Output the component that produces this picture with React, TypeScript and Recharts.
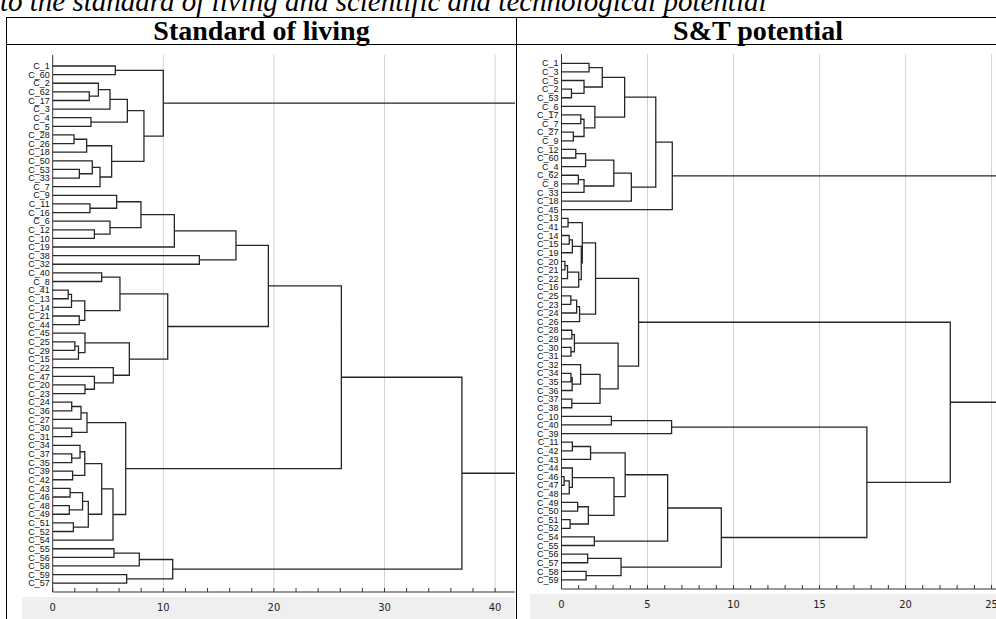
import React from 'react';
import { LineChart, Line, XAxis, YAxis, ReferenceLine } from 'recharts';

type TreeNode = number | [TreeNode, TreeNode, number];

const captionText = 'to the standard of living and scientific and technological potential';
const panelTitles = ['Standard of living', 'S&T potential'];

// ---------- Standard of living ----------
const livingLabels = [
  'C_1', 'C_60', 'C_2', 'C_62', 'C_17', 'C_3', 'C_4', 'C_5', 'C_28', 'C_26',
  'C_18', 'C_50', 'C_53', 'C_33', 'C_7', 'C_9', 'C_11', 'C_16', 'C_6', 'C_12',
  'C_10', 'C_19', 'C_38', 'C_32', 'C_40', 'C_8', 'C_41', 'C_13', 'C_14', 'C_21',
  'C_44', 'C_45', 'C_25', 'C_29', 'C_15', 'C_22', 'C_47', 'C_20', 'C_23', 'C_24',
  'C_36', 'C_27', 'C_30', 'C_31', 'C_34', 'C_37', 'C_35', 'C_39', 'C_42', 'C_43',
  'C_46', 'C_48', 'C_49', 'C_51', 'C_52', 'C_54', 'C_55', 'C_56', 'C_58', 'C_59',
  'C_57',
];
// leaves are indices into livingLabels; [left, right, linkage distance]
const livingTop: TreeNode = [
  [0, 1, 5.66],
  [
    [[[2, [3, 4, 3.31], 4.13], 5, 5.18], [6, 7, 3.46], 6.75],
    [[[8, 9, 1.93], 10, 3.07], [[11, [12, 13, 2.41], 3.58], 14, 4.28], 5.33],
    8.25,
  ],
  10.0,
];
const livingUpper: TreeNode = [
  [
    [[[15, [16, 17, 3.37], 5.78], [18, [19, 20, 3.77], 5.18], 7.98], 21, 11.0],
    [22, 23, 13.26],
    16.57,
  ],
  [
    [[24, 25, 4.43], [[[26, 27, 1.4], 28, 1.7], [29, 30, 2.4], 2.9], 6.08],
    [[31, [[32, 33, 2.0], 34, 2.33], 2.92], [35, [36, [37, 38, 2.92], 3.77], 5.48], 6.93],
    10.4,
  ],
  19.5,
];
const livingMiddle: TreeNode = [
  [[[39, 40, 1.72], 41, 2.56], [42, 43, 1.72], 3.1],
  [
    [
      [[44, [45, 46, 1.72], 2.47], [47, 48, 1.8], 2.9],
      [[[49, 50, 1.57], [51, 52, 1.5], 2.7], [53, 54, 1.87], 3.22],
      4.43,
    ],
    55,
    5.45,
  ],
  6.6,
];
const livingBottom: TreeNode = [[[56, 57, 5.54], 58, 7.83], [59, 60, 6.69], 10.85];
const livingJoins = [26.1, 37.0, 48.0];
const livingMinorTicks = [0, 2, 4, 6, 8, 10, 12, 14, 16, 18, 20, 22, 24, 26, 28, 30, 32, 34, 36, 38, 40];
const livingGrid = [10, 20, 30, 40];

// ---------- S&T potential ----------
const stLabels = [
  'C_1', 'C_3', 'C_5', 'C_2', 'C_53', 'C_6', 'C_17', 'C_7', 'C_27', 'C_9',
  'C_12', 'C_60', 'C_4', 'C_62', 'C_8', 'C_33', 'C_18', 'C_45', 'C_13', 'C_41',
  'C_14', 'C_15', 'C_19', 'C_20', 'C_21', 'C_22', 'C_16', 'C_25', 'C_23', 'C_24',
  'C_26', 'C_28', 'C_29', 'C_30', 'C_31', 'C_32', 'C_34', 'C_35', 'C_36', 'C_37',
  'C_38', 'C_10', 'C_40', 'C_39', 'C_11', 'C_42', 'C_43', 'C_44', 'C_46', 'C_47',
  'C_48', 'C_49', 'C_50', 'C_51', 'C_52', 'C_54', 'C_55', 'C_56', 'C_57', 'C_58',
  'C_59',
];
const stTop: TreeNode = [
  [
    [
      [[0, 1, 1.6], [2, [3, 4, 0.58], 1.31], 2.37],
      [5, [[6, 7, 1.12], [8, 9, 0.69], 1.31], 1.94],
      3.67,
    ],
    [[[[10, 11, 0.83], 12, 1.4], [[13, 14, 0.98], 15, 1.31], 3.04], 16, 4.06],
    5.48,
  ],
  17,
  6.44,
];
const stMiddle: TreeNode = [
  [
    [[18, 19, 0.38], [[[20, 21, 0.45], 22, 0.63], [[[23, 24, 0.2], 25, 0.35], 26, 1.0], 1.15], 1.21],
    [[[27, 28, 0.54], 29, 0.88], 30, 1.05],
    1.98,
  ],
  [
    [[31, 32, 0.6], [33, 34, 0.55], 0.75],
    [[35, [[36, 37, 0.55], 38, 0.62], 1.11], [39, 40, 0.6], 2.24],
    3.29,
  ],
  4.48,
];
const stSmall: TreeNode = [[41, 42, 2.9], 43, 6.4];
const stBottom: TreeNode = [
  [
    [
      [[44, 45, 0.63], 46, 1.69],
      [[47, [[48, 49, 0.15], 50, 0.45], 0.63], [[51, 52, 0.94], [53, 54, 0.5], 1.56], 3.05],
      3.7,
    ],
    [55, 56, 1.91],
    6.17,
  ],
  [[57, 58, 1.52], [59, 60, 1.43], 3.46],
  9.29,
];
const stJoins = [17.75, 22.6, 30.0];
const stMinorTicks = [0, 1, 2, 3, 4, 5, 6, 7, 8, 9, 10, 11, 12, 13, 14, 15, 16, 17, 18, 19, 20, 21, 22, 23, 24, 25];
const stGrid = [5, 10, 15, 20, 25];

// ---------- tree assembly ----------
const livingRoot: TreeNode = [
  livingTop,
  [[livingUpper, livingMiddle, livingJoins[0]], livingBottom, livingJoins[1]],
  livingJoins[2],
];
const stRoot: TreeNode = [
  stTop,
  [stMiddle, [stSmall, stBottom, stJoins[0]], stJoins[1]],
  stJoins[2],
];

type Pt = { x: number; y: number | null };

function buildSegments(root: TreeNode): Pt[] {
  const pts: Pt[] = [];
  const walk = (n: TreeNode): { y: number; h: number } => {
    if (typeof n === 'number') return { y: n, h: 0 };
    const a = walk(n[0]);
    const b = walk(n[1]);
    const h = n[2];
    pts.push({ x: a.h, y: a.y }, { x: h, y: a.y }, { x: h, y: b.y }, { x: b.h, y: b.y }, { x: b.h, y: null });
    return { y: (a.y + b.y) / 2, h };
  };
  walk(root);
  return pts;
}

const sansNarrow = '"Liberation Sans Narrow","DejaVu Sans Condensed","Liberation Sans",Arial,sans-serif';

function makeBottomTick(step: number) {
  return (props: any) => {
    const { x, y, payload } = props;
    const v = payload.value as number;
    const major = Math.abs(v / step - Math.round(v / step)) < 1e-6;
    return (
      <g>
        <line x1={x} x2={x} y1={y} y2={y - 4} stroke="#333" strokeWidth={1} />
        {major && (
          <text x={x} y={y + 19} textAnchor="middle" fontSize={11} fontFamily={sansNarrow} fill="#222">
            {v}
          </text>
        )}
      </g>
    );
  };
}

function TopTick(props: any) {
  const { x, y } = props;
  return <line x1={x} x2={x} y1={y} y2={y + 4} stroke="#333" strokeWidth={1} />;
}

interface DendroProps {
  root: TreeNode;
  labels: string[];
  minorTicks: number[];
  grid: number[];
  labelStep: number;
  width: number;
  height: number;
  margin: { top: number; right: number; bottom: number; left: number };
  yAxisWidth: number;
  xMax: number;
  yDomain: [number, number];
}

function Dendrogram(p: DendroProps) {
  const pts = buildSegments(p.root);
  const leafTicks = p.labels.map((_, i) => i);
  return (
    <LineChart width={p.width} height={p.height} margin={p.margin}>
      <XAxis
        xAxisId={0}
        type="number"
        dataKey="x"
        domain={[0, p.xMax]}
        allowDataOverflow
        ticks={p.minorTicks}
        interval={0}
        tickSize={0}
        tickMargin={0}
        height={20}
        axisLine={{ stroke: '#333', strokeWidth: 1 }}
        tick={makeBottomTick(p.labelStep)}
      />
      <XAxis
        xAxisId="top"
        orientation="top"
        type="number"
        dataKey="x"
        domain={[0, p.xMax]}
        allowDataOverflow
        ticks={p.minorTicks}
        interval={0}
        tickSize={0}
        tickMargin={0}
        height={0}
        axisLine={{ stroke: '#333', strokeWidth: 1 }}
        tick={<TopTick />}
      />
      <YAxis
        type="number"
        dataKey="y"
        domain={p.yDomain}
        reversed
        allowDataOverflow
        ticks={leafTicks}
        interval={0}
        width={p.yAxisWidth}
        tickLine={false}
        tickSize={0}
        tickMargin={3}
        axisLine={{ stroke: '#333', strokeWidth: 1 }}
        tickFormatter={(v: number) => p.labels[Math.round(v)] ?? ''}
        tick={{ fontSize: 9, fill: '#111', fontFamily: '"Liberation Sans",Arial,sans-serif' }}
      />
      {p.grid.map((g) => (
        <ReferenceLine key={g} x={g} stroke="#d4d4d4" strokeWidth={1} />
      ))}
      <Line
        data={pts}
        dataKey="y"
        type="linear"
        stroke="#262626"
        strokeWidth={1.3}
        dot={false}
        activeDot={false}
        connectNulls={false}
        isAnimationActive={false}
      />
    </LineChart>
  );
}

export default function App() {
  return (
    <div
      style={{
        position: 'absolute',
        left: 0,
        top: 0,
        width: 996,
        height: 619,
        overflow: 'hidden',
        background: '#fff',
        fontFamily: '"Liberation Serif","Times New Roman",serif',
        color: '#000',
      }}
    >
      <div
        style={{
          position: 'absolute',
          left: 0,
          top: -13,
          fontSize: 29,
          lineHeight: '29px',
          fontStyle: 'italic',
          whiteSpace: 'nowrap',
        }}
      >
        {captionText}
      </div>
      {/* table grid */}
      <div style={{ position: 'absolute', left: 6, top: 17, width: 994, height: 1, background: '#000' }} />
      <div style={{ position: 'absolute', left: 6, top: 44, width: 994, height: 1, background: '#000' }} />
      <div style={{ position: 'absolute', left: 6, top: 17, width: 1, height: 610, background: '#000' }} />
      <div style={{ position: 'absolute', left: 516, top: 17, width: 1, height: 610, background: '#000' }} />
      <div
        style={{
          position: 'absolute',
          left: 7,
          top: 17,
          width: 509,
          height: 27,
          lineHeight: '27px',
          textAlign: 'center',
          fontSize: 28,
          fontWeight: 'bold',
          whiteSpace: 'nowrap',
        }}
      >
        {panelTitles[0]}
      </div>
      <div
        style={{
          position: 'absolute',
          left: 517,
          top: 17,
          width: 482,
          height: 27,
          lineHeight: '27px',
          textAlign: 'center',
          fontSize: 28,
          fontWeight: 'bold',
          whiteSpace: 'nowrap',
        }}
      >
        {panelTitles[1]}
      </div>
      {/* light band behind axis labels */}
      <div style={{ position: 'absolute', left: 22, top: 597, width: 493, height: 22, background: '#efefef' }} />
      <div style={{ position: 'absolute', left: 530, top: 594, width: 466, height: 25, background: '#efefef' }} />
      <div style={{ position: 'absolute', left: 0, top: 45 }}>
        <Dendrogram
          root={livingRoot}
          labels={livingLabels}
          minorTicks={livingMinorTicks}
          grid={livingGrid}
          labelStep={10}
          width={516}
          height={574}
          margin={{ top: 10, right: 1, bottom: 7, left: 0 }}
          yAxisWidth={52.7}
          xMax={41.8}
          yDomain={[-1.276, 61.02]}
        />
      </div>
      <div style={{ position: 'absolute', left: 516, top: 45 }}>
        <Dendrogram
          root={stRoot}
          labels={stLabels}
          minorTicks={stMinorTicks}
          grid={stGrid}
          labelStep={5}
          width={484}
          height={574}
          margin={{ top: 9, right: 0, bottom: 10, left: 0 }}
          yAxisWidth={45.5}
          xMax={25.49}
          yDomain={[-1.08, 61.05]}
        />
      </div>
    </div>
  );
}
